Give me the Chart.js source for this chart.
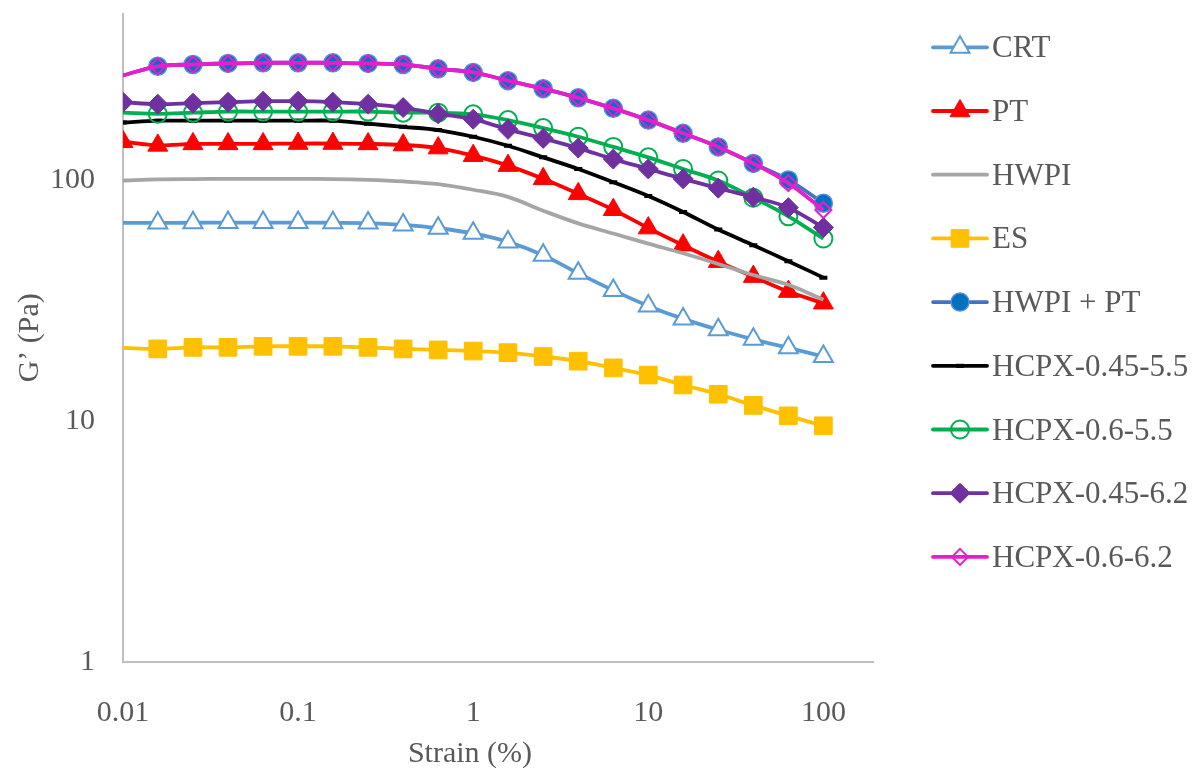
<!DOCTYPE html>
<html>
<head>
<meta charset="utf-8">
<script src="https://cdn.jsdelivr.net/npm/chart.js@4/dist/chart.umd.min.js"></script>
<style>
    html, body { margin: 0; padding: 0; background: #fff; }
    #wrap { width: 1203px; height: 773px; }
</style>
</head>
<body>
<div id="wrap"><canvas id="gChart" width="1203" height="773"></canvas></div>
<script>
// Strain (%) - 5 points per decade
const strain = [0.01, 0.0158, 0.0251, 0.0398, 0.0631, 0.1, 0.158, 0.251, 0.398, 0.631,
    1, 1.58, 2.51, 3.98, 6.31, 10, 15.8, 25.1, 39.8, 63.1, 100];

// G' (Pa) for each sample
const crt = [66.3, 66.3, 66.4, 66.5, 66.5, 66.5, 66.4, 66.2, 65, 63, 60, 55.3, 48.7, 41, 34.8, 30, 26.5, 23.9, 21.8, 20.1, 18.5];
const pt = [144, 139, 141, 141, 141, 141.5, 141.5, 141, 139.5, 135.5, 126, 114.6, 101, 87.5, 75.2, 63.1, 53.6, 45.8, 39.7, 34.4, 30.8];
const hwpi = [99.4, 100.5, 100.8, 101, 101, 101, 100.8, 100, 98.5, 96, 91, 85, 74.5, 66, 59.9, 54.4, 49.6, 44.8, 40.3, 36.7, 31.8];
const es = [20.1, 19.9, 20.2, 20.2, 20.4, 20.4, 20.4, 20.2, 19.9, 19.7, 19.5, 19.2, 18.5, 17.7, 16.6, 15.5, 14.1, 12.9, 11.6, 10.5, 9.55];
const hwpiPt = [271, 296, 301, 304, 306, 306, 306, 304, 301, 289, 279, 258, 239, 219, 198, 177, 156, 137, 117, 100, 80];
const hcpx045_55 = [173, 176, 176, 176, 176, 176, 176, 171, 166, 161, 151, 138.5, 124, 111, 97.8, 85.7, 73.6, 62.2, 53.6, 46, 39.3];
const hcpx06_55 = [190, 188, 190, 192, 192, 192, 192, 192, 190, 190, 187, 177, 164, 151, 137, 124, 111, 99.4, 84.3, 70.6, 57.1];
const hcpx045_62 = [210, 206, 208, 210, 212, 212, 210, 206, 199.5, 188, 178.5, 162, 148.6, 135.5, 122, 111, 101, 92.4, 84.8, 76.7, 63.4];
const hcpx06_62 = [271, 296, 301, 304, 306, 306, 306, 304, 301, 289, 279, 258, 239, 219, 198, 177, 156, 137, 117, 97, 75];

// Axis ticks
const xTicks = [0.01, 0.1, 1, 10, 100];
const yTicks = [1, 10, 100];

const FONT = 'Liberation Serif, Times New Roman, serif';
const TEXT = '#595959';

function pts(ys) {
    return strain.map((x, i) => ({ x: x, y: ys[i] }));
}

// hide the marker on the first point (as in the original)
function skipFirst(r) {
    return ctx => ctx.dataIndex === 0 ? 0 : r;
}

const series = [
    { label: 'CRT', data: crt, color: '#5B9BD5', style: 'triangle', r: 11, fill: '#FFFFFF', bw: 2, skip: true },
    { label: 'PT', data: pt, color: '#FF0000', style: 'triangle', r: 11.5, fill: '#FF0000', bw: 1, skip: false },
    { label: 'HWPI', data: hwpi, color: '#A5A5A5', style: false, r: 0, fill: '#A5A5A5', bw: 0, skip: false },
    { label: 'ES', data: es, color: '#FFC000', style: 'rect', r: 12.5, fill: '#FFC000', bw: 1, skip: true },
    { label: 'HWPI + PT', data: hwpiPt, color: '#4472C4', style: 'circle', r: 9, fill: '#0070C0', bw: 1.5, border: '#5B8FD8', skip: true },
    { label: 'HCPX-0.45-5.5', data: hcpx045_55, color: '#000000', style: 'line', r: 4, fill: '#000000', bw: 4, skip: false },
    { label: 'HCPX-0.6-5.5', data: hcpx06_55, color: '#00B050', style: 'circle', r: 9, fill: 'rgba(0,0,0,0)', bw: 2, skip: true },
    { label: 'HCPX-0.45-6.2', data: hcpx045_62, color: '#7030A0', style: 'rectRot', r: 10, fill: '#7030A0', bw: 1, skip: false },
    { label: 'HCPX-0.6-6.2', data: hcpx06_62, color: '#E61ECC', style: 'rectRot', r: 8, fill: 'rgba(0,0,0,0)', bw: 2, skip: true }
];

const datasets = series.map((s, i) => ({
    label: s.label,
    data: pts(s.data),
    borderColor: s.color,
    backgroundColor: s.color,
    borderWidth: 3.8,
    tension: 0.35,
    pointStyle: s.style,
    pointRadius: s.skip ? skipFirst(s.r) : s.r,
    pointBackgroundColor: s.fill,
    pointBorderColor: s.border || s.color,
    pointBorderWidth: s.bw,
    order: series.length - i
}));

// Excel style legend: short line with the marker in the middle
const legendPlugin = {
    id: 'sideLegend',
    afterDraw(chart) {
        const ctx = chart.ctx;
        const x0 = 933, x1 = 987, top = 47.3, step = 63.7;
        ctx.save();
        series.forEach((s, i) => {
            const y = top + i * step;
            ctx.strokeStyle = s.color;
            ctx.lineWidth = 3.8;
            ctx.lineCap = 'round';
            ctx.beginPath();
            ctx.moveTo(x0, y);
            ctx.lineTo(x1, y);
            ctx.stroke();
            ctx.lineCap = 'butt';
            if (s.style) {
                ctx.fillStyle = s.fill;
                ctx.strokeStyle = s.border || s.color;
                ctx.lineWidth = s.bw;
                Chart.helpers.drawPoint(ctx, {
                    pointStyle: s.style, radius: s.r, rotation: 0, borderWidth: s.bw
                }, (x0 + x1) / 2, y);
            }
            ctx.fillStyle = TEXT;
            ctx.font = '31px ' + FONT;
            ctx.textAlign = 'left';
            ctx.textBaseline = 'alphabetic';
            ctx.fillText(s.label, 992, y + 10);
        });
        // x axis title
        ctx.font = '30px ' + FONT;
        ctx.textAlign = 'center';
        ctx.fillText('Strain (%)', chart.chartArea.left + 347, 762);
        ctx.restore();
    }
};

const ctx = document.getElementById('gChart').getContext('2d');
new Chart(ctx, {
    type: 'line',
    data: { datasets: datasets },
    options: {
        responsive: false,
        animation: false,
        devicePixelRatio: 1,
        layout: { padding: { left: 0, top: 10, right: 330, bottom: 0 } },
        plugins: {
            legend: { display: false },
            tooltip: { enabled: false }
        },
        scales: {
            x: {
                type: 'logarithmic',
                min: 0.01,
                max: 192,
                grid: { display: false, drawTicks: false },
                border: { display: true, color: '#BFBFBF', width: 2 },
                afterBuildTicks: scale => { scale.ticks = xTicks.map(v => ({ value: v })); },
                afterFit: scale => {
                    scale.height = 111;
                    scale.paddingLeft = 0;
                    scale.paddingRight = 0;
                },
                ticks: {
                    autoSkip: false,
                    maxRotation: 0,
                    padding: 33,
                    color: TEXT,
                    font: { family: FONT, size: 30 },
                    callback: v => String(v)
                }
            },
            y: {
                type: 'logarithmic',
                min: 1,
                max: 490,
                grid: { display: false, drawTicks: false },
                border: { display: true, color: '#BFBFBF', width: 2 },
                afterBuildTicks: scale => { scale.ticks = yTicks.map(v => ({ value: v })); },
                afterFit: scale => {
                    scale.width = 123;
                    scale.paddingTop = 0;
                    scale.paddingBottom = 0;
                },
                ticks: {
                    padding: 28,
                    color: TEXT,
                    font: { family: FONT, size: 30 },
                    callback: v => String(v)
                },
                title: {
                    display: true,
                    text: 'G’ (Pa)',
                    color: TEXT,
                    font: { family: FONT, size: 30 },
                    padding: { top: 12, bottom: 0 }
                }
            }
        }
    },
    plugins: [legendPlugin]
});
</script>
</body>
</html>
